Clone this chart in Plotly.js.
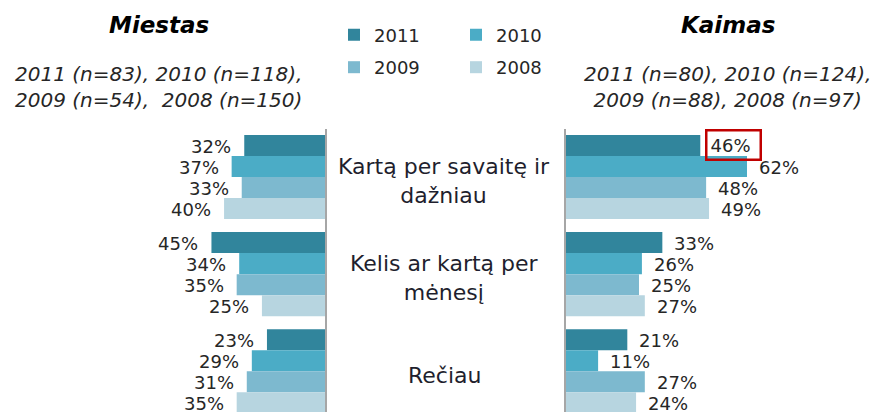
<!DOCTYPE html>
<html>
<head>
<meta charset="utf-8">
<script src="https://cdn.plot.ly/plotly-3.0.1.min.js"></script>
<style>html,body{margin:0;padding:0;background:#fff;}#chart{width:874px;height:412px;}</style>
</head>
<body>
<div id="chart"></div>
<script>
// ---- data ----
var categories = ["Kartą per savaitę ir<br>dažniau", "Kelis ar kartą per<br>mėnesį", "Rečiau"];
var years = ["2011", "2010", "2009", "2008"];
var miestas2011 = [32, 45, 23];
var miestas2010 = [37, 34, 29];
var miestas2009 = [33, 35, 31];
var miestas2008 = [40, 25, 35];
var kaimas2011 = [46, 33, 21];
var kaimas2010 = [62, 26, 11];
var kaimas2009 = [48, 25, 27];
var kaimas2008 = [49, 27, 24];
var panelTitles = ["Miestas", "Kaimas"];
var panelSubtitles = [
  "2011 (n=83), 2010 (n=118),<br>2009 (n=54), \u00A02008 (n=150)",
  "2011 (n=80), 2010 (n=124),<br>2009 (n=88), 2008 (n=97)"
];
var highlightYear = "2011";
var highlightCategory = 0;

// ---- styles ----
var colors = ["#31859C", "#4BACC6", "#7DB9CF", "#B7D5E0"];
var font = "DejaVu Sans, Verdana, sans-serif";
var bargap = 0.134;

var miestas = [miestas2011, miestas2010, miestas2009, miestas2008];
var kaimas = [kaimas2011, kaimas2010, kaimas2009, kaimas2008];

var traces = [];
var annotations = [];
var nY = years.length;
var slot = (1 - bargap) / nY;
function offsetFor(j) { return -(1 - bargap) / 2 + (j + 0.5) * slot; }

years.forEach(function (yr, j) {
  traces.push({
    type: "bar", orientation: "h", name: yr,
    x: miestas[j], y: categories, xaxis: "x", yaxis: "y",
    marker: {color: colors[j]},
    legend: j < 2 ? "legend" : "legend2",
    hoverinfo: "x+name"
  });
  traces.push({
    type: "bar", orientation: "h", name: yr,
    x: kaimas[j], y: categories, xaxis: "x2", yaxis: "y2",
    marker: {color: colors[j]}, showlegend: false,
    hoverinfo: "x+name"
  });
  miestas[j].forEach(function (v, i) {
    annotations.push({
      xref: "x", yref: "y", x: v, y: i + offsetFor(j),
      text: v + "%", showarrow: false, xanchor: "right", yanchor: "middle",
      xshift: -11, yshift: -1,
      font: {family: font, size: 18, color: "#262626"}
    });
  });
  kaimas[j].forEach(function (v, i) {
    var hl = (yr === highlightYear && i === highlightCategory);
    var a = {
      xref: "x2", yref: "y2", x: v, y: i + offsetFor(j),
      text: v + "%", showarrow: false, xanchor: "left", yanchor: "middle",
      xshift: 10, yshift: -1,
      font: {family: font, size: 18, color: "#262626"}
    };
    if (hl) {
      a.text = v + "%\u00A0";
      a.bordercolor = "#C00000"; a.borderwidth = 2.5; a.borderpad = 3;
      a.xshift = 5; a.yshift = 1;
    }
    annotations.push(a);
  });
});

// category labels in the middle
categories.forEach(function (c, i) {
  annotations.push({
    xref: "paper", yref: "y", x: 444 / 874, y: i, text: c,
    showarrow: false, xanchor: "center", yanchor: "middle", yshift: -4,
    font: {family: font, size: 22, color: "#1F1F2E"}
  });
});

// panel titles
var titleX = [158.5 / 874, 728 / 874];
panelTitles.forEach(function (t, k) {
  annotations.push({
    xref: "paper", yref: "paper", x: titleX[k], y: 1 - 25 / 412,
    text: "<b><i>" + t + "</i></b>", showarrow: false,
    xanchor: "center", yanchor: "middle",
    font: {family: font, size: 23, color: "#000000"}
  });
  annotations.push({
    xref: "paper", yref: "paper", x: titleX[k] - 0.5 / 874, y: 1 - 87 / 412,
    text: "<i>" + panelSubtitles[k] + "</i>", showarrow: false,
    xanchor: "center", yanchor: "middle",
    font: {family: font, size: 20, color: "#262626"}
  });
});

var yTop = 1 - 128.5 / 412;
var legendFont = {family: font, size: 18, color: "#262626"};
var layout = {
  width: 874, height: 412,
  margin: {l: 0, r: 0, t: 0, b: 0},
  paper_bgcolor: "#ffffff", plot_bgcolor: "rgba(0,0,0,0)",
  barmode: "group", bargap: bargap, bargroupgap: 0,
  font: {family: font, size: 18, color: "#262626"},
  xaxis: {domain: [0, 325 / 874], range: [128.8, 0], visible: false, fixedrange: true},
  xaxis2: {domain: [566 / 874, 1], range: [0, 105.5], visible: false, fixedrange: true},
  yaxis: {domain: [0, yTop], range: [2.42, -0.5], anchor: "x", side: "right",
          showline: true, linecolor: "#A6A6A6", linewidth: 1.5,
          showgrid: false, zeroline: false, showticklabels: false, ticks: "", fixedrange: true},
  yaxis2: {domain: [0, yTop], range: [2.42, -0.5], anchor: "x2", side: "left", matches: "y",
          showline: true, linecolor: "#A6A6A6", linewidth: 1.5,
          showgrid: false, zeroline: false, showticklabels: false, ticks: "", fixedrange: true},
  showlegend: true,
  legend: {orientation: "h", x: 334 / 874, xanchor: "left", y: 1 - 35 / 412, yanchor: "middle",
           entrywidth: 77, entrywidthmode: "pixels", font: legendFont,
           bgcolor: "rgba(0,0,0,0)", borderwidth: 0, itemclick: false, itemdoubleclick: false},
  legend2: {orientation: "h", x: 334 / 874, xanchor: "left", y: 1 - 67.5 / 412, yanchor: "middle",
           entrywidth: 77, entrywidthmode: "pixels", font: legendFont,
           bgcolor: "rgba(0,0,0,0)", borderwidth: 0, itemclick: false, itemdoubleclick: false},
  annotations: annotations
};

Plotly.newPlot("chart", traces, layout, {displayModeBar: false, responsive: false});
</script>
</body>
</html>
